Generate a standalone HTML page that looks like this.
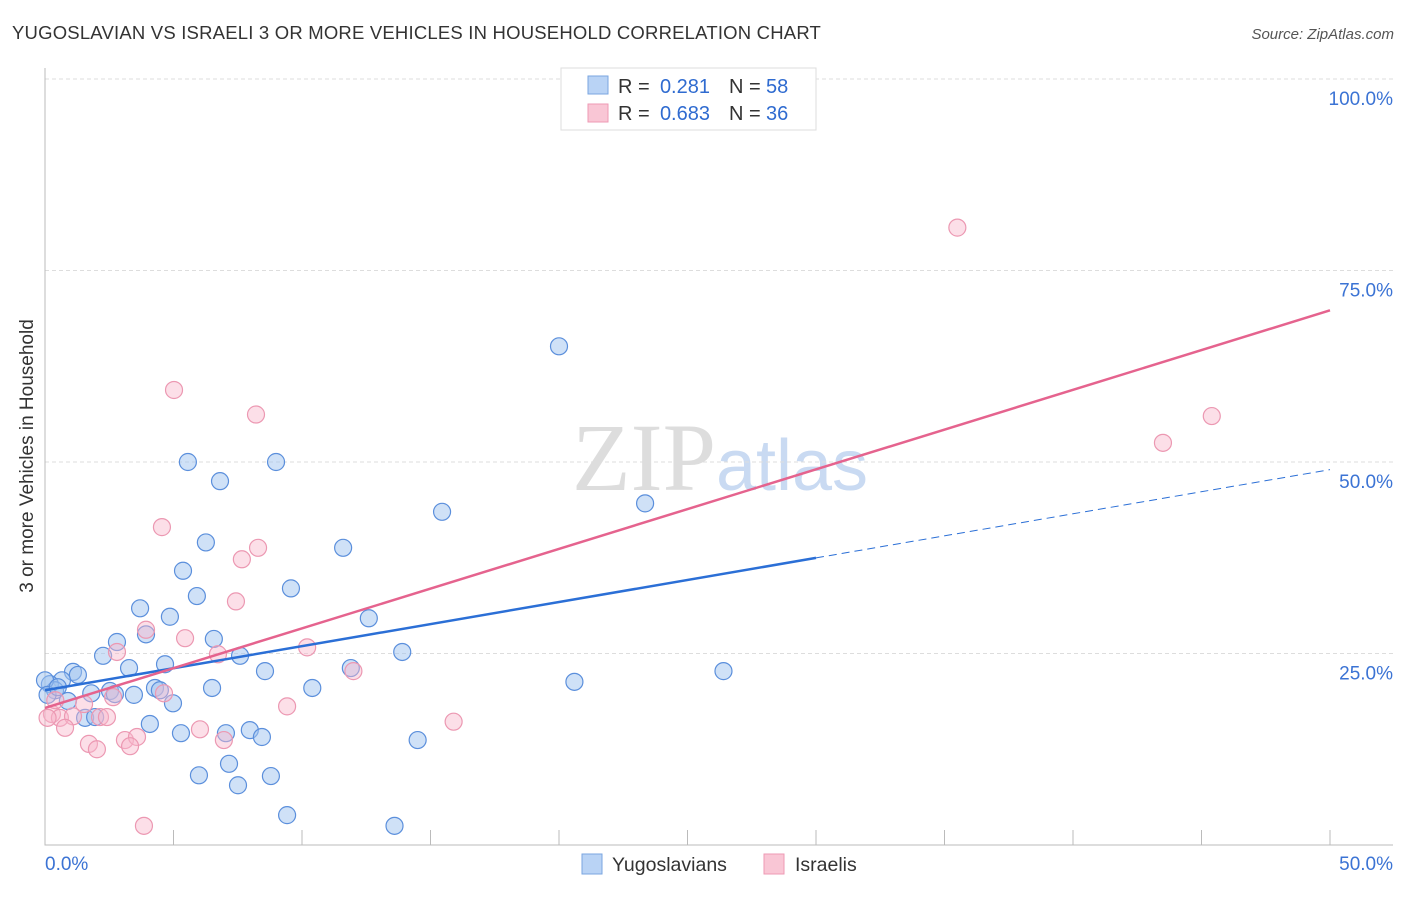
<!DOCTYPE html>
<html><head><meta charset="utf-8"><style>
body{margin:0;background:#fff;font-family:"Liberation Sans",sans-serif}
</style></head><body>
<svg id="chart" width="1406" height="892" xmlns="http://www.w3.org/2000/svg" font-family="Liberation Sans, sans-serif">
<text x="12" y="39" font-size="18.5" letter-spacing="0.2" fill="#333">YUGOSLAVIAN VS ISRAELI 3 OR MORE VEHICLES IN HOUSEHOLD CORRELATION CHART</text>
<text x="1394" y="39" font-size="15" fill="#555" font-style="italic" text-anchor="end">Source: ZipAtlas.com</text>
<text x="720" y="490" font-size="96" text-anchor="middle" fill="#ddd" font-family="Liberation Serif, serif">ZIP<tspan fill="#c9daf2" font-family="Liberation Sans, sans-serif" font-size="72">atlas</tspan></text>
<text transform="translate(33,456) rotate(-90)" font-size="19" fill="#333" text-anchor="middle">3 or more Vehicles in Household</text>
<g id="grid"></g><g id="pts"></g><g id="lines"></g>
<g>
<rect x="561" y="68" width="255" height="62" fill="#fff" stroke="#ddd"/>
<rect x="588" y="76" width="20" height="18" fill="#b9d3f5" stroke="#7aa6e0"/>
<rect x="588" y="104" width="20" height="18" fill="#f9c6d5" stroke="#ee9ab4"/>
<text x="618" y="93" font-size="20" fill="#333">R =</text><text x="710" y="93" font-size="20" fill="#2f6bd0" text-anchor="end">0.281</text>
<text x="729" y="93" font-size="20" fill="#333">N =</text><text x="766" y="93" font-size="20" fill="#2f6bd0">58</text>
<text x="618" y="120" font-size="20" fill="#333">R =</text><text x="710" y="120" font-size="20" fill="#2f6bd0" text-anchor="end">0.683</text>
<text x="729" y="120" font-size="20" fill="#333">N =</text><text x="766" y="120" font-size="20" fill="#2f6bd0">36</text>
</g>
<g>
<rect x="582" y="854" width="20" height="20" fill="#b9d3f5" stroke="#7aa6e0"/>
<text x="612" y="871" font-size="19.5" fill="#333">Yugoslavians</text>
<rect x="764" y="854" width="20" height="20" fill="#f9c6d5" stroke="#ee9ab4"/>
<text x="795" y="871" font-size="19.5" fill="#333">Israelis</text>
</g>
</svg>
<script>
const yTicks=[25,50,75,100];
const yTickLabels=["25.0%","50.0%","75.0%","100.0%"];
const xTicks=[5,10,15,20,25,30,35,40,45,50];
const blueX=[20.0,5.56,8.99,6.81,15.45,23.35,6.26,11.6,5.37,9.57,5.91,3.70,4.86,12.6,3.93,2.80,6.57,2.26,7.59,13.9,3.27,4.67,8.56,11.9,26.4,1.09,1.28,0.66,20.6,0.19,0.39,2.53,4.28,4.47,6.50,10.4,2.72,3.46,0.89,4.98,1.56,1.95,4.08,5.29,7.04,7.97,8.44,14.5,5.99,7.16,8.79,7.51,9.42,13.6,0.0,0.1,0.5,1.8];
const blueY=[65.1,50.0,50.0,47.5,43.5,44.6,39.5,38.8,35.8,33.5,32.5,30.9,29.8,29.6,27.5,26.5,26.9,24.7,24.7,25.2,23.1,23.6,22.7,23.1,22.7,22.6,22.2,21.5,21.3,21.0,20.2,20.1,20.5,20.2,20.5,20.5,19.7,19.6,18.8,18.5,16.6,16.7,15.8,14.6,14.6,15.0,14.1,13.7,9.1,10.6,9.0,7.8,3.9,2.5,21.5,19.6,20.6,19.8];
const pinkX=[35.5,5.02,8.21,45.4,43.5,4.55,8.29,7.66,7.43,3.93,5.45,10.2,6.73,2.80,12.0,4.63,2.65,9.42,1.52,0.27,0.58,1.09,2.14,2.41,15.9,0.78,6.03,3.11,3.58,6.96,1.71,3.31,2.02,3.85,0.1,0.4];
const pinkY=[80.6,59.4,56.2,56.0,52.5,41.5,38.8,37.3,31.8,28.1,27.0,25.8,24.9,25.2,22.7,19.8,19.3,18.1,18.4,17.1,16.6,16.8,16.7,16.7,16.1,15.3,15.1,13.7,14.1,13.7,13.2,12.9,12.5,2.5,16.6,18.9];
const blueLine=[20.2,49.0], blueSolidEnd=30.0;
const pinkLine=[17.9,69.8];
const NS="http://www.w3.org/2000/svg";
const X=v=>45+v/50*1285, Y=v=>845-v/100*766;
function mk(p,t,a){const e=document.createElementNS(NS,t);for(const k in a)e.setAttribute(k,a[k]);p.appendChild(e);return e;}
const svg=document.getElementById('chart'),grid=document.getElementById('grid'),pts=document.getElementById('pts'),lines=document.getElementById('lines');
yTicks.forEach((t,i)=>{
 const l=mk(grid,'line',{x1:45,x2:1393,y1:Y(t),y2:Y(t),stroke:'#ddd','stroke-dasharray':'4,3'});
 
 
 const tx=mk(grid,'text',{x:1393,y:Y(t)+26,'font-size':19,fill:'#3b73d4','text-anchor':'end'});tx.textContent=yTickLabels[i];
 
 
});
const ax=mk(grid,'path',{d:'M45 68V845H1393',stroke:'#bbb',fill:'none'});


xTicks.forEach(t=>{const l=mk(grid,'line',{x1:X(t),x2:X(t),y1:830,y2:845,stroke:'#bbb'});
 
 });
const x0=mk(grid,'text',{x:45,y:870,'font-size':19,fill:'#3b73d4'});x0.textContent='0.0%';


const x1=mk(grid,'text',{x:1393,y:870,'font-size':19,fill:'#3b73d4','text-anchor':'end'});x1.textContent='50.0%';


blueX.forEach((v,i)=>{const c=mk(pts,'circle',{cx:X(v),cy:Y(blueY[i]),r:8.5,fill:'rgba(160,195,240,0.5)',stroke:'#5b8fdc','stroke-width':1.2});
 
 });
pinkX.forEach((v,i)=>{const c=mk(pts,'circle',{cx:X(v),cy:Y(pinkY[i]),r:8.5,fill:'rgba(248,185,205,0.45)',stroke:'#ec98b2','stroke-width':1.2});
 
 });
const bAt=x=>blueLine[0]+(blueLine[1]-blueLine[0])*x/50;
let l1=mk(lines,'line',{x1:X(0),y1:Y(bAt(0)),x2:X(blueSolidEnd),y2:Y(bAt(blueSolidEnd)),stroke:'#2b6fd6','stroke-width':2.5});


let l2=mk(lines,'line',{x1:X(blueSolidEnd),y1:Y(bAt(blueSolidEnd)),x2:X(50),y2:Y(bAt(50)),stroke:'#2b6fd6','stroke-width':1,'stroke-dasharray':'8,5'});


let l3=mk(lines,'line',{x1:X(0),y1:Y(pinkLine[0]),x2:X(50),y2:Y(pinkLine[1]),stroke:'#e5638e','stroke-width':2.5});


</script>
</body></html>
